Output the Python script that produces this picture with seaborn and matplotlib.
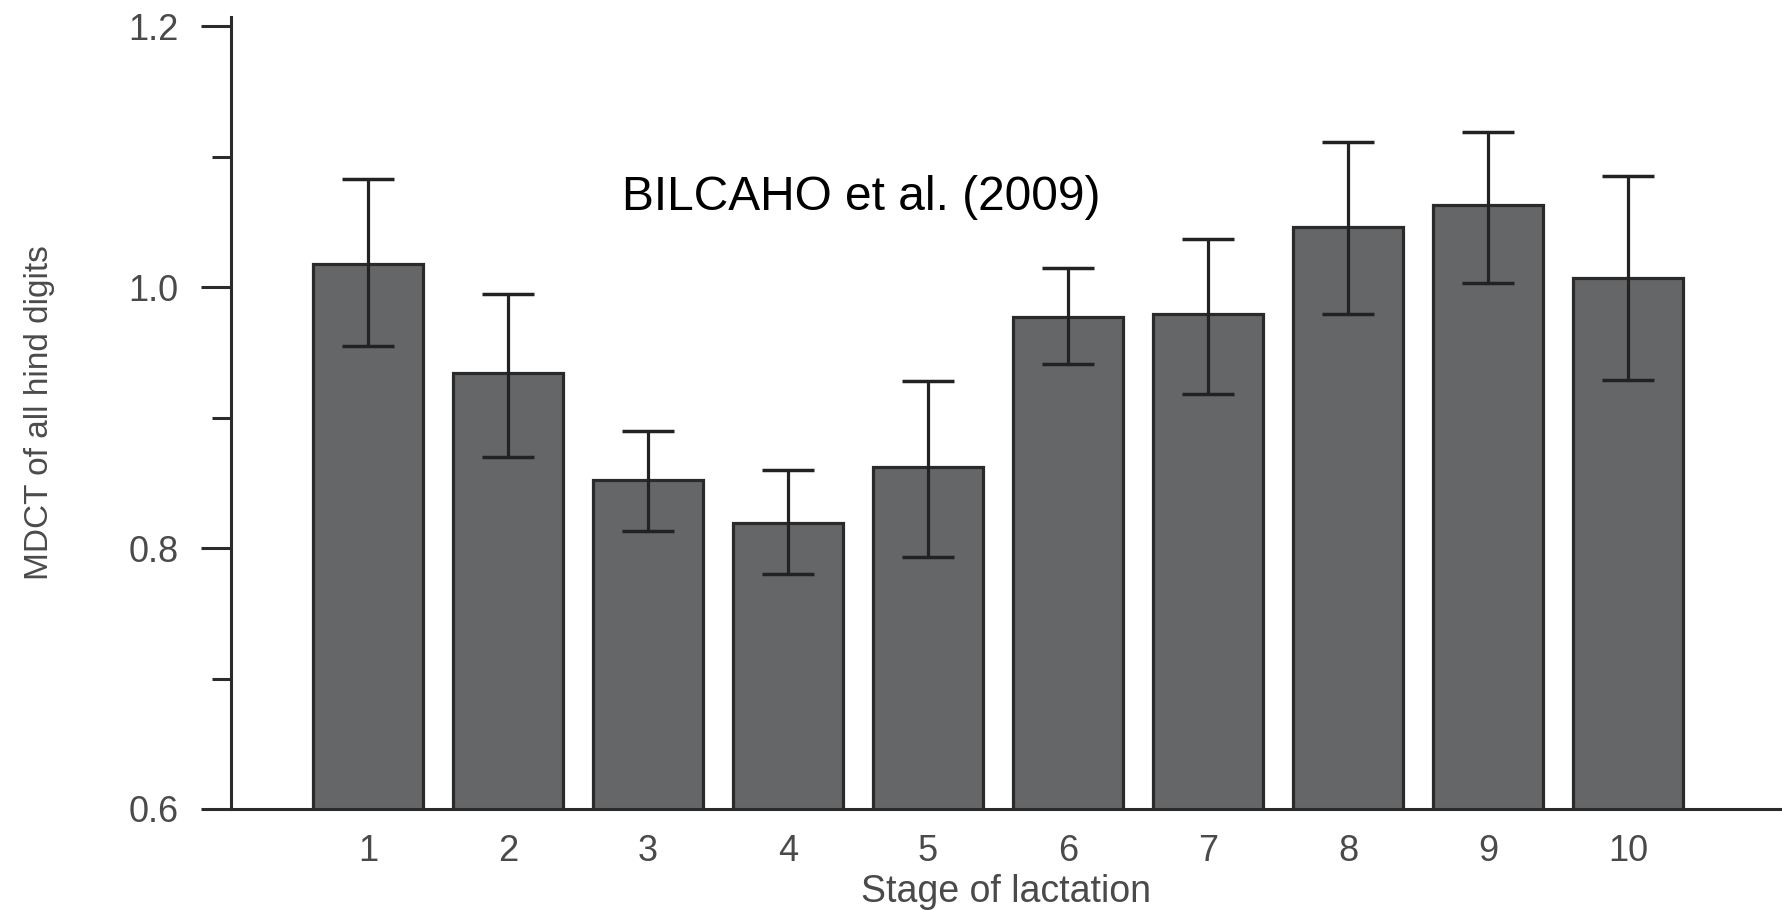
import numpy as np
import pandas as pd
import matplotlib
matplotlib.use("Agg")
import matplotlib.pyplot as plt
from matplotlib.ticker import MultipleLocator, FixedLocator
import seaborn as sns

# ---- data ----
stages = ["1", "2", "3", "4", "5", "6", "7", "8", "9", "10"]
means = [1.018, 0.934, 0.852, 0.819, 0.862, 0.977, 0.979, 1.046, 1.063, 1.007]
err_low = [0.955, 0.870, 0.813, 0.780, 0.793, 0.941, 0.918, 0.979, 1.003, 0.929]
err_high = [1.083, 0.995, 0.890, 0.860, 0.928, 1.015, 1.037, 1.111, 1.119, 1.085]
y_major = [0.6, 0.8, 1.0, 1.2]
y_major_labels = ["0.6", "0.8", "1.0", "1.2"]
annotation = "BILCAHO et al. (2009)"
xlabel = "Stage of lactation"
ylabel = "MDCT of all hind digits"

df = pd.DataFrame({"stage": stages, "mdct": means})

sns.set_theme(style="white")
plt.rcParams["font.family"] = ["Liberation Sans", "DejaVu Sans"]

fig = plt.figure(figsize=(17.82, 9.10), dpi=100)
ax = fig.add_axes([0.1295, 0.111, 0.8705, 0.8703])

bar_color = "#656668"
edge_color = "#2a2a2a"
dark = "#2b2b2b"
label_gray = "#4a4a4a"

sns.barplot(data=df, x="stage", y="mdct", order=stages, color=bar_color,
            saturation=1, edgecolor=edge_color, linewidth=2.3, width=0.78,
            errorbar=None, ax=ax)

pos = np.arange(len(stages))
m = np.array(means)
yerr = np.vstack([m - np.array(err_low), np.array(err_high) - m])
ax.errorbar(pos, m, yerr=yerr, fmt="none", ecolor="#222222",
            elinewidth=2.3, capsize=19, capthick=2.5, zorder=5)

ax.set_xlim(-0.98, 10.1)
ax.set_ylim(0.6, 1.207)

ax.yaxis.set_major_locator(FixedLocator(y_major))
ax.set_yticklabels(y_major_labels)
ax.yaxis.set_minor_locator(MultipleLocator(0.1))

for s in ["top", "right"]:
    ax.spines[s].set_visible(False)
for s in ["left", "bottom"]:
    ax.spines[s].set_color(dark)
    ax.spines[s].set_linewidth(2.2)

ax.tick_params(axis="y", which="major", left=True, length=21.5, width=2.2,
               color=dark, pad=16, labelsize=26, labelcolor=label_gray)
ax.tick_params(axis="y", which="minor", left=True, length=14, width=2.2,
               color=dark)
ax.tick_params(axis="x", which="both", bottom=False, length=0, pad=18,
               labelsize=26, labelcolor=label_gray)

ax.set_xlabel(xlabel, fontsize=27, color=label_gray)
ax.set_ylabel(ylabel, fontsize=24, color=label_gray)
ax.xaxis.set_label_coords(0.5, -0.082)
ax.yaxis.set_label_coords(-0.113, 0.5)

ax.text(3.52, 1.069, annotation, ha="center", va="center",
        fontsize=34.5, color="black")

ax.grid(False)
fig.savefig("out.png", dpi=100)
